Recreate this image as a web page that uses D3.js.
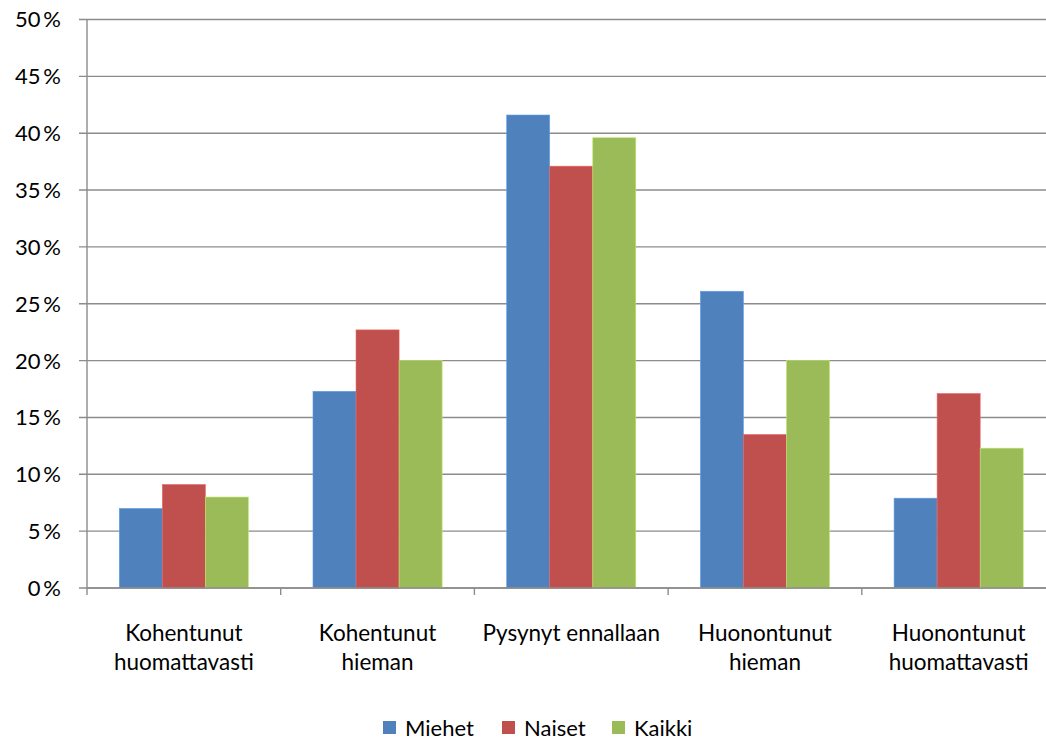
<!DOCTYPE html>
<html>
<head>
<meta charset="utf-8">
<script src="https://cdn.jsdelivr.net/npm/d3@7"></script>
<style>
  body { margin: 0; background: #fff; }
  text { font-family: Lato, "Open Sans", sans-serif; fill: #000; }
</style>
</head>
<body>
<div id="viz"></div>
<script>
var categories = [["Kohentunut", "huomattavasti"], ["Kohentunut", "hieman"], ["Pysynyt ennallaan"], ["Huonontunut", "hieman"], ["Huonontunut", "huomattavasti"]];
var seriesNames = ["Miehet", "Naiset", "Kaikki"];
var miehet = [7.0, 17.3, 41.6, 26.1, 7.9];
var naiset = [9.1, 22.7, 37.1, 13.5, 17.1];
var kaikki = [8.0, 20.0, 39.6, 20.0, 12.3];
var colors = ["#4F81BD", "#C0504D", "#9BBB59"];
var yTicks = [0, 5, 10, 15, 20, 25, 30, 35, 40, 45, 50];

var width = 1046, height = 740;
var margin = {left: 87, top: 19.5, bottom: 152};
var plotW = 968.5;
var plotH = height - margin.top - margin.bottom;

var svg = d3.select("#viz").append("svg")
    .attr("width", width)
    .attr("height", height);

var values = [miehet, naiset, kaikki];
var x0 = d3.scaleBand().domain(d3.range(categories.length)).range([margin.left, margin.left + plotW]);
// bar width with 150% gap like excel
var barW = x0.bandwidth() / (3 + 1.5);
var x1 = d3.scaleBand().domain(d3.range(3))
    .range([barW * 0.75, barW * 3.75]);
var y = d3.scaleLinear().domain([0, 50]).range([margin.top + plotH, margin.top]);

// gridlines
svg.append("g").selectAll("line")
    .data(yTicks)
    .enter().append("line")
    .attr("x1", margin.left - 8)
    .attr("x2", width)
    .attr("y1", d => y(d))
    .attr("y2", d => y(d))
    .attr("stroke", "#8c8c8c")
    .attr("stroke-width", 1.4);

// y labels
svg.append("g").selectAll("text")
    .data(yTicks)
    .enter().append("text")
    .attr("x", 61)
    .attr("y", d => y(d))
    .attr("dy", "0.36em")
    .attr("text-anchor", "end")
    .style("font-size", "22px")
    .text(d => d + "\u2009%");

// bars
var groups = svg.append("g").selectAll("g")
    .data(categories)
    .enter().append("g")
    .attr("transform", (d, i) => "translate(" + x0(i) + ",0)");

groups.selectAll("rect")
    .data((d, i) => values.map((s, j) => ({s: j, v: s[i]})))
    .enter().append("rect")
    .attr("x", d => x1(d.s))
    .attr("width", x1.bandwidth())
    .attr("y", d => y(d.v))
    .attr("height", d => y(0) - y(d.v))
    .attr("fill", d => colors[d.s])
    .attr("stroke", d => d3.color(colors[d.s]).brighter(0.6))
    .attr("stroke-width", 0.6);

// axes lines
svg.append("line")
    .attr("x1", margin.left).attr("x2", margin.left)
    .attr("y1", margin.top).attr("y2", y(0) + 7)
    .attr("stroke", "#8c8c8c").attr("stroke-width", 1.4);
svg.append("line")
    .attr("x1", margin.left).attr("x2", width)
    .attr("y1", y(0)).attr("y2", y(0))
    .attr("stroke", "#8c8c8c").attr("stroke-width", 1.4);
svg.append("g").selectAll("line")
    .data(d3.range(1, categories.length + 1))
    .enter().append("line")
    .attr("x1", d => margin.left + d * x0.step())
    .attr("x2", d => margin.left + d * x0.step())
    .attr("y1", y(0)).attr("y2", y(0) + 7)
    .attr("stroke", "#8c8c8c").attr("stroke-width", 1.4);

// category labels
var labels = svg.append("g").selectAll("text")
    .data(categories)
    .enter().append("text")
    .attr("x", (d, i) => x0(i) + x0.bandwidth() / 2)
    .attr("y", 641)
    .attr("text-anchor", "middle")
    .style("font-size", "22.5px");
labels.selectAll("tspan")
    .data(d => d)
    .enter().append("tspan")
    .attr("x", function() { return this.parentNode.getAttribute("x"); })
    .attr("dy", (d, i) => i == 0 ? 0 : 29)
    .text(d => d);

// legend
var legX = [383, 502, 612];
var leg = svg.append("g").selectAll("g")
    .data(seriesNames)
    .enter().append("g")
    .attr("transform", (d, i) => "translate(" + legX[i] + ",721)");
leg.append("rect")
    .attr("width", 13).attr("height", 13)
    .attr("fill", (d, i) => colors[i]);
leg.append("text")
    .attr("x", 22)
    .attr("y", 15)
    .style("font-size", "22px")
    .text(d => d);
</script>
</body>
</html>
